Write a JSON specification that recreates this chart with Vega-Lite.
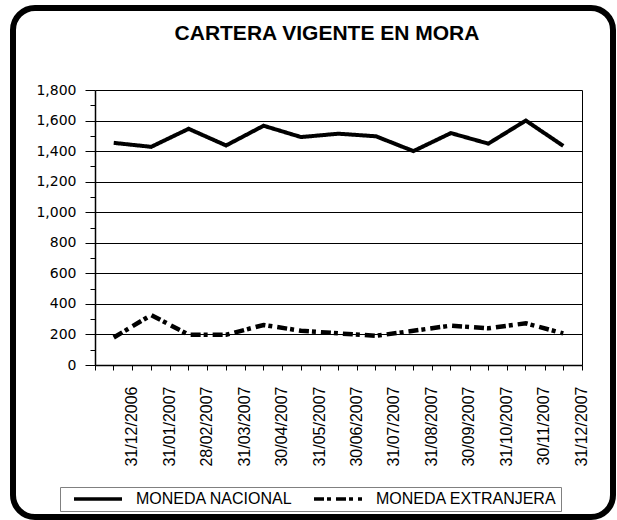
{
  "$schema": "https://vega.github.io/schema/vega-lite/v6.json",
  "width": 600,
  "height": 509,
  "autosize": {"type": "none"},
  "padding": {"left": 13, "top": 8, "right": 4, "bottom": 3},
  "background": "white",
  "config": {
    "view": {"stroke": "black", "strokeWidth": 6, "cornerRadius": 22, "fill": "white"},
    "axis": {"domainColor": "black", "tickColor": "black", "labelColor": "black"}
  },
  "title": {
    "text": "CARTERA VIGENTE EN MORA",
    "anchor": "middle",
    "frame": "group",
    "offset": -36,
    "dx": 14,
    "font": "Liberation Sans",
    "fontSize": 21,
    "fontWeight": "bold",
    "color": "black"
  },
  "data": {
    "values": [
      {"fecha": "31/12/2006", "serie": "MONEDA NACIONAL", "valor": 1454},
      {"fecha": "31/01/2007", "serie": "MONEDA NACIONAL", "valor": 1428},
      {"fecha": "28/02/2007", "serie": "MONEDA NACIONAL", "valor": 1546},
      {"fecha": "31/03/2007", "serie": "MONEDA NACIONAL", "valor": 1437},
      {"fecha": "30/04/2007", "serie": "MONEDA NACIONAL", "valor": 1566},
      {"fecha": "31/05/2007", "serie": "MONEDA NACIONAL", "valor": 1492},
      {"fecha": "30/06/2007", "serie": "MONEDA NACIONAL", "valor": 1514},
      {"fecha": "31/07/2007", "serie": "MONEDA NACIONAL", "valor": 1497},
      {"fecha": "31/08/2007", "serie": "MONEDA NACIONAL", "valor": 1400},
      {"fecha": "30/09/2007", "serie": "MONEDA NACIONAL", "valor": 1518},
      {"fecha": "31/10/2007", "serie": "MONEDA NACIONAL", "valor": 1449},
      {"fecha": "30/11/2007", "serie": "MONEDA NACIONAL", "valor": 1600},
      {"fecha": "31/12/2007", "serie": "MONEDA NACIONAL", "valor": 1434},
      {"fecha": "31/12/2006", "serie": "MONEDA EXTRANJERA", "valor": 180},
      {"fecha": "31/01/2007", "serie": "MONEDA EXTRANJERA", "valor": 327},
      {"fecha": "28/02/2007", "serie": "MONEDA EXTRANJERA", "valor": 198},
      {"fecha": "31/03/2007", "serie": "MONEDA EXTRANJERA", "valor": 198},
      {"fecha": "30/04/2007", "serie": "MONEDA EXTRANJERA", "valor": 262},
      {"fecha": "31/05/2007", "serie": "MONEDA EXTRANJERA", "valor": 224},
      {"fecha": "30/06/2007", "serie": "MONEDA EXTRANJERA", "valor": 207},
      {"fecha": "31/07/2007", "serie": "MONEDA EXTRANJERA", "valor": 191},
      {"fecha": "31/08/2007", "serie": "MONEDA EXTRANJERA", "valor": 224},
      {"fecha": "30/09/2007", "serie": "MONEDA EXTRANJERA", "valor": 258},
      {"fecha": "31/10/2007", "serie": "MONEDA EXTRANJERA", "valor": 240},
      {"fecha": "30/11/2007", "serie": "MONEDA EXTRANJERA", "valor": 273},
      {"fecha": "31/12/2007", "serie": "MONEDA EXTRANJERA", "valor": 207}
    ]
  },
  "layer": [
    {
      "transform": [{"filter": "datum.serie == 'MONEDA NACIONAL'"}],
      "mark": {"type": "line", "color": "black", "strokeWidth": 4, "strokeJoin": "miter"},
      "encoding": {
        "x": {
          "field": "fecha", "type": "ordinal", "sort": null, "bandPosition": 0.5,
          "scale": {"type": "band", "range": [82, 569], "paddingInner": 0, "paddingOuter": 0},
          "axis": {
            "orient": "bottom", "offset": -152, "title": null,
            "tickBand": "extent", "tickSize": 5, "tickWidth": 1,
            "labelAngle": 270, "labelAlign": "right", "labelBaseline": "middle",
            "labelOffset": 18, "labelPadding": 16, "labelOverlap": false,
            "labelFont": "Liberation Sans", "labelFontSize": 16,
            "domainWidth": 1.5, "grid": false
          }
        },
        "y": {
          "field": "valor", "type": "quantitative",
          "scale": {"domain": [0, 1800], "range": [357, 82], "nice": false},
          "axis": {
            "orient": "left", "offset": -82, "title": null,
            "values": [0, 100, 200, 300, 400, 500, 600, 700, 800, 900, 1000, 1100, 1200, 1300, 1400, 1500, 1600, 1700, 1800],
            "format": ",.0f",
            "labelExpr": "datum.value % 200 == 0 ? datum.label : ''",
            "labelFont": "DejaVu Sans", "labelFontSize": 14, "labelPadding": 9,
            "tickSize": {"condition": {"test": "datum.value % 200 == 0", "value": 10}, "value": 5},
            "domainWidth": 1.5,
            "grid": true, "gridColor": "black", "gridWidth": 1,
            "gridOpacity": {"condition": {"test": "datum.value % 200 == 0", "value": 1}, "value": 0}
          }
        },
        "strokeDash": {
          "field": "serie", "type": "nominal",
          "scale": {"domain": ["MONEDA NACIONAL", "MONEDA EXTRANJERA"], "range": [[1, 0], [10, 3, 4, 5]]},
          "legend": {
            "orient": "none", "legendX": 47, "legendY": 479, "direction": "horizontal",
            "title": null, "symbolType": "stroke", "symbolSize": 2304, "symbolStrokeWidth": 3.5,
            "symbolStrokeColor": "black", "clipHeight": 16, "padding": 4, "symbolOffset": 8,
            "labelOffset": 12, "columnPadding": 11, "strokeColor": "#808080",
            "labelFont": "Liberation Sans", "labelFontSize": 16, "labelColor": "black", "labelLimit": 400
          }
        }
      }
    },
    {
      "transform": [{"filter": "datum.serie == 'MONEDA EXTRANJERA'"}],
      "mark": {"type": "line", "color": "black", "strokeWidth": 4.5, "strokeJoin": "miter"},
      "encoding": {
        "x": {
          "field": "fecha", "type": "ordinal", "sort": null, "bandPosition": 0.5,
          "scale": {"type": "band", "range": [82, 569], "paddingInner": 0, "paddingOuter": 0},
          "axis": {
            "orient": "bottom", "offset": -152, "title": null,
            "domain": false, "labels": false, "tickSize": 5, "tickWidth": 1, "grid": false
          }
        },
        "y": {
          "field": "valor", "type": "quantitative",
          "scale": {"domain": [0, 1800], "range": [357, 82], "nice": false},
          "axis": {
            "orient": "right", "offset": -31, "title": null,
            "labels": false, "ticks": false, "grid": false, "domainWidth": 1
          }
        },
        "strokeDash": {
          "field": "serie", "type": "nominal",
          "scale": {"domain": ["MONEDA NACIONAL", "MONEDA EXTRANJERA"], "range": [[1, 0], [10, 3, 4, 5]]}
        }
      }
    }
  ],
  "resolve": {"axis": {"x": "independent", "y": "independent"}}
}
